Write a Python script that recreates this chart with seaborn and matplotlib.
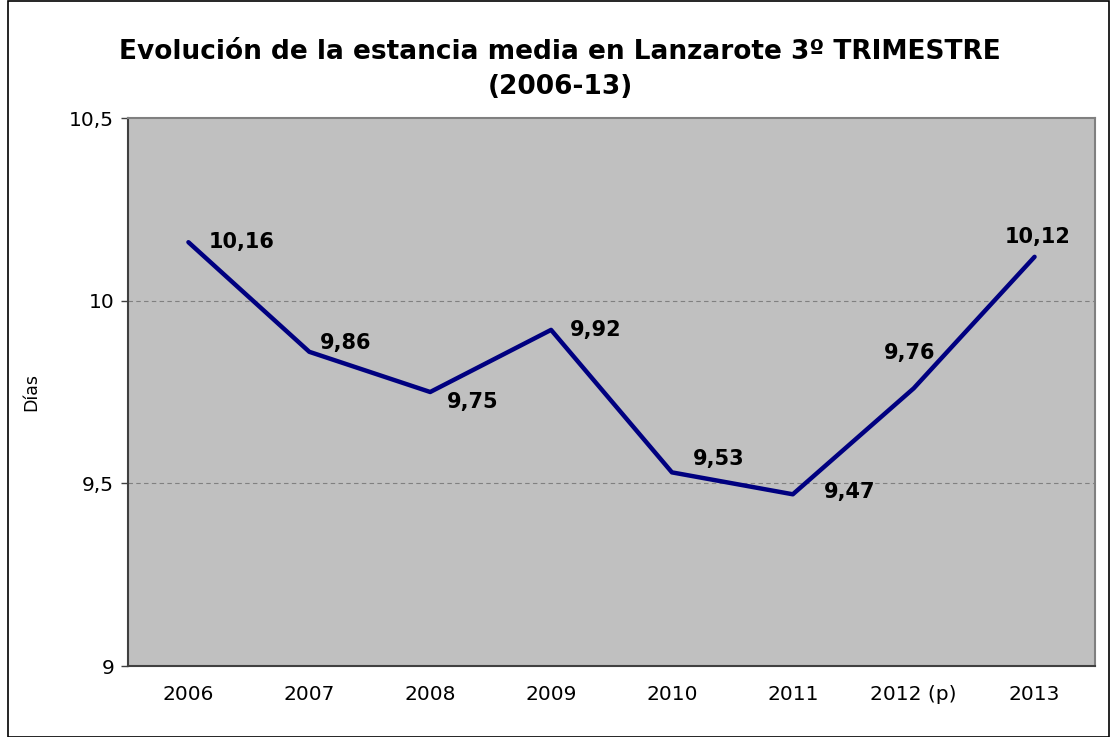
import matplotlib
matplotlib.use("Agg")
import matplotlib.pyplot as plt
import seaborn as sns
import pandas as pd
from matplotlib.patches import Rectangle

years = ["2006", "2007", "2008", "2009", "2010", "2011", "2012 (p)", "2013"]
values = [10.16, 9.86, 9.75, 9.92, 9.53, 9.47, 9.76, 10.12]
value_labels = ["10,16", "9,86", "9,75", "9,92", "9,53", "9,47", "9,76", "10,12"]
y_ticks = [9, 9.5, 10, 10.5]
y_tick_labels = ["9", "9,5", "10", "10,5"]

# label offsets in pixels (dx, dy) and alignment
offsets = [(20, 0, "left"), (11, 9, "left"), (17, -10, "left"), (19, 0, "left"),
           (21, 13, "left"), (31, 2, "left"), (-30, 35, "left"), (3, 20, "center")]

sns.set_theme(style="white")
plt.rcParams['font.family'] = ['DejaVu Sans']
plt.rcParams.update({"text.color": "black", "axes.labelcolor": "black",
                     "xtick.color": "black", "ytick.color": "black"})

fig = plt.figure(figsize=(11.1, 7.37), dpi=100)
ax = fig.add_axes([128/1110, 1-666/737, (1095-128)/1110, (666-118)/737])
ax.set_facecolor("#C0C0C0")

df = pd.DataFrame({"year": years, "value": values})
sns.lineplot(data=df, x="year", y="value", ax=ax, color="#000080", linewidth=3.2, sort=False)

ax.set_xlim(-0.5, len(years) - 0.5)
ax.set_ylim(9, 10.5)
ax.set_yticks(y_ticks)
ax.set_yticklabels(y_tick_labels, fontsize=14.5)
ax.set_xticks(range(len(years)))
ax.set_xticklabels(years, fontsize=14.5)
for y in [9.5, 10]:
    ax.axhline(y, color="#808080", linestyle=(0, (4, 3)), linewidth=0.8, zorder=0.5)

ax.tick_params(axis="y", length=5, width=1, color="#404040", pad=5, left=True)
ax.tick_params(axis="x", length=0, pad=14)
ax.set_xlabel("")
ax.set_ylabel("Días", fontsize=12.5)
ax.yaxis.set_label_coords(-88/967, 0.5)

for s in ["left", "bottom"]:
    ax.spines[s].set_color("#404040")
    ax.spines[s].set_linewidth(1.5)
for s in ["top", "right"]:
    ax.spines[s].set_color("#808080")
    ax.spines[s].set_linewidth(1.5)

for i, (lab, v) in enumerate(zip(value_labels, values)):
    dx, dy, ha = offsets[i]
    ax.annotate(lab, (i, v), xytext=(dx, dy), textcoords="offset pixels",
                ha=ha, va="center", fontsize=15, fontweight="bold", color="black")

fig.text(0.5 + 5/1110, 1 - 52/737, "Evolución de la estancia media en Lanzarote 3º TRIMESTRE",
         ha="center", va="center", fontsize=19, fontweight="bold")
fig.text(0.5 + 5/1110, 1 - 87/737, "(2006-13)",
         ha="center", va="center", fontsize=19, fontweight="bold")

fig.patches.append(Rectangle((8/1110, 0), (1109-8)/1110, 1 - 1/737, transform=fig.transFigure,
                             fill=False, edgecolor="black", linewidth=1.2))

fig.savefig("out.png", dpi=100)
